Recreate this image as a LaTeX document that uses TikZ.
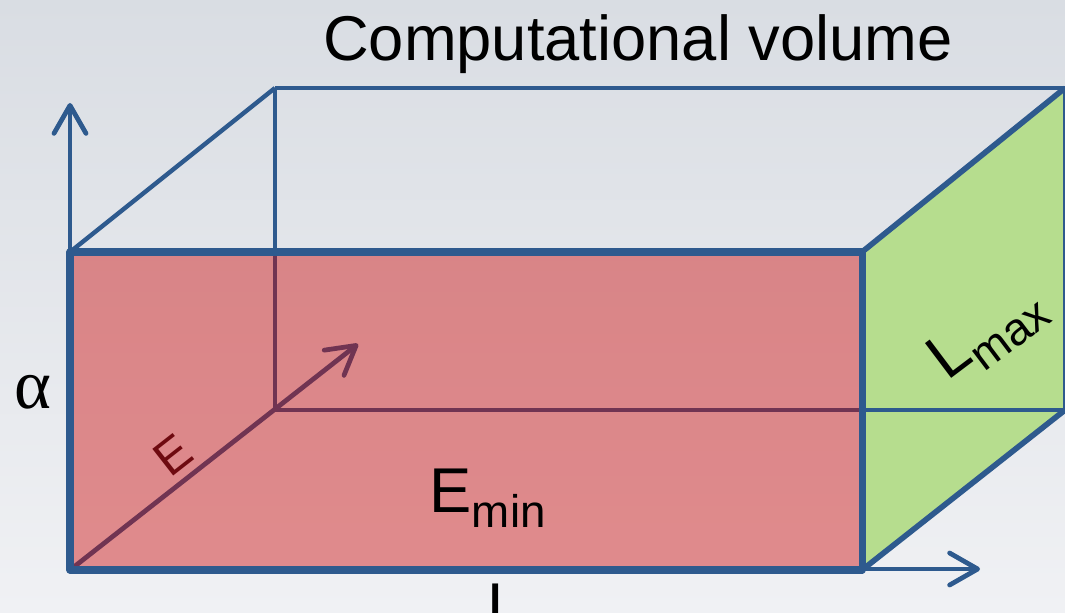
\documentclass[tikz,border=0pt]{standalone}
\usepackage{fontspec}
\setmainfont{Liberation Sans}
\newfontfamily\greekfont{Liberation Serif}
\usetikzlibrary{arrows.meta}
\definecolor{edgeblue}{HTML}{2E5A8E}
\definecolor{facered}{HTML}{CC0000}
\definecolor{facegreen}{HTML}{B6DD8E}
\definecolor{labelmaroon}{HTML}{6E0A10}
\definecolor{bgtop}{HTML}{D9DDE3}
\definecolor{bgbottom}{HTML}{F0F1F4}
\newcommand{\lowSub}[2]{#1\raisebox{-4.3pt}{\fontsize{13}{13}\selectfont #2}}

\begin{document}
\begin{tikzpicture}[x=0.01cm, y=-0.01cm,
    backEdge/.style={draw=edgeblue, line width=1.25pt},
    sideEdge/.style={draw=edgeblue, line width=1.6pt},
    frontEdge/.style={draw=edgeblue, line width=2pt, line join=round},
    axisArrow/.style={draw=edgeblue, line width=1.35pt, line cap=round, -{Straight Barb[length=0.28cm, width=0.32cm, round]}},
    titleText/.style={font=\fontsize{18}{20}\selectfont, inner sep=0pt},
    faceLabel/.style={font=\fontsize{18}{20}\selectfont, inner sep=0pt},
    axisLabel/.style={font=\fontsize{18}{20}\selectfont, inner sep=0pt},
    eLabel/.style={font=\fontsize{14}{16}\selectfont, text=labelmaroon, inner sep=0pt},
    greekLabel/.style={font=\greekfont\fontsize{20}{22}\selectfont, inner sep=0pt}
]
    % background
    \shade[top color=bgtop, bottom color=bgbottom] (0,0) rectangle (1065,613);
    \useasboundingbox (0,0) rectangle (1065,613);

    % corners of the box
    \coordinate (ftl) at (70,252);
    \coordinate (ftr) at (862,252);
    \coordinate (fbl) at (70,570);
    \coordinate (fbr) at (862,570);
    \coordinate (btl) at (275,88);
    \coordinate (btr) at (1065,88);
    \coordinate (bbl) at (275,410);
    \coordinate (bbr) at (1065,410);

    % axis ends
    \coordinate (alphaTip) at (70,103);
    \coordinate (lStart) at (565,569);
    \coordinate (lTip) at (980,569);
    \coordinate (eTip) at (358,344);

    % side face L_max
    \fill[facegreen] (ftr) -- (btr) -- (bbr) -- (fbr) -- cycle;

    % hidden edges
    \draw[backEdge] (btl) -- (btr);
    \draw[backEdge] (btl) -- (bbl);
    \draw[backEdge] (bbl) -- (bbr);
    \draw[backEdge] (btr) -- (bbr);
    \draw[backEdge] (ftl) -- (btl);
    \draw[axisArrow] (fbl) -- (eTip);

    % front face E_min
    \fill[facered, fill opacity=0.42] (ftl) rectangle (fbr);
    \draw[frontEdge] (ftl) rectangle (fbr);
    \draw[sideEdge] (ftr) -- (btr);
    \draw[sideEdge] (fbr) -- (bbr);

    % axes
    \draw[axisArrow] (fbl) -- (alphaTip);
    \draw[axisArrow] (lStart) -- (lTip);

    % labels
    \node[titleText] (title) at (638,44) {Computational volume};
    \node[greekLabel] (alphaLabel) at (33,392) {α};
    \node[eLabel, rotate=38] (eLabel) at (173,455) {E};
    \node[faceLabel, anchor=base west] (eMin) at (429,512) {\lowSub{E}{min}};
    \node[faceLabel, anchor=base west, rotate=37] (lMax) at (947,382) {\lowSub{L}{max}};
    \node[axisLabel, anchor=north] (lLabel) at (505,583) {L};
\end{tikzpicture}
\end{document}
